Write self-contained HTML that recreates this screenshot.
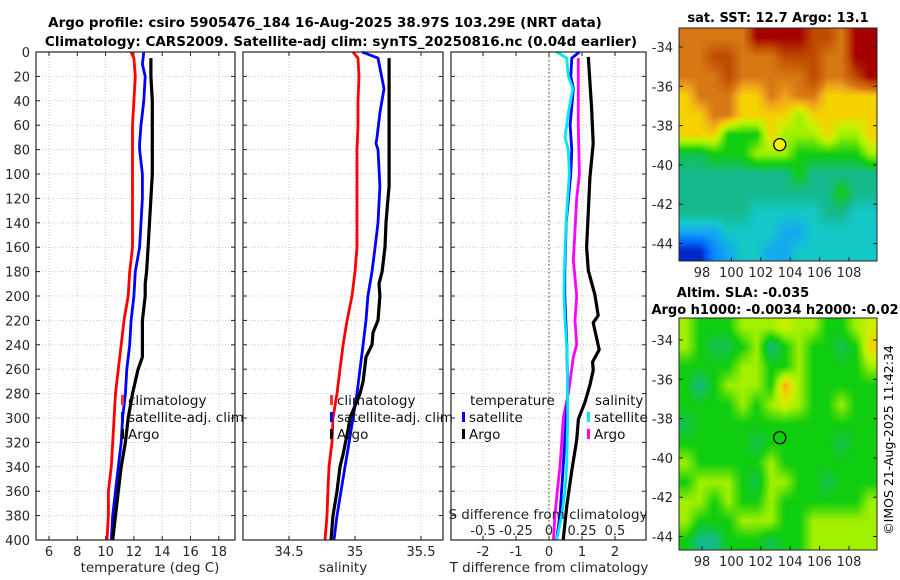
<!DOCTYPE html>
<html><head><meta charset="utf-8">
<style>
html,body{margin:0;padding:0;background:#fff;}
#root{position:relative;width:900px;height:580px;overflow:hidden;font-family:"DejaVu Sans","Liberation Sans",sans-serif;}
svg text{font-family:"DejaVu Sans","Liberation Sans",sans-serif;}
canvas{position:absolute;}
</style></head>
<body>
<div id="root">
<svg id="chart" width="900" height="580" style="position:absolute;left:0;top:0">
  <text x="325" y="27" font-size="13.5" font-weight="bold" text-anchor="middle">Argo profile: csiro 5905476_184 16-Aug-2025 38.97S 103.29E (NRT data)</text>
  <text x="341" y="46" font-size="13.5" font-weight="bold" text-anchor="middle">Climatology: CARS2009. Satellite-adj clim: synTS_20250816.nc (0.04d earlier)</text>
  <text x="778" y="22" font-size="13" font-weight="bold" text-anchor="middle">sat. SST: 12.7 Argo: 13.1</text>
  <text x="743" y="297" font-size="13" font-weight="bold" text-anchor="middle">Altim. SLA: -0.035</text>
  <text x="775" y="314" font-size="13" font-weight="bold" text-anchor="middle">Argo h1000: -0.0034 h2000: -0.02</text>
  <text x="0" y="0" font-size="12.5" text-anchor="middle" transform="translate(893,440) rotate(-90)">©IMOS 21-Aug-2025 11:42:34</text>
</svg>
<canvas id="sstmap" width="198" height="233" style="left:679px;top:28px;width:198px;height:233px"></canvas>
<canvas id="slamap" width="198" height="232" style="left:679px;top:318px;width:198px;height:232px"></canvas>
<svg id="maps" width="900" height="580" style="position:absolute;left:0;top:0"></svg>
</div>
<script>
// ---------- data ----------
const depthTicks = [0,20,40,60,80,100,120,140,160,180,200,220,240,260,280,300,320,340,360,380,400];
const tempTicks = [6,8,10,12,14,16,18];
const salTicks = [34.5,35,35.5];
const tdiffTicks = [-2,-1,0,1,2];
const sdiffTicks = [-0.5,-0.25,0,0.25,0.5];
const sdiffTickLabels = ["-0.5","-0.25","0","0.25","0.5"];

const climTdepth = [0,5,20,40,60,80,100,120,140,160,180,200,220,240,260,280,300,320,340,360,380,400];
const climT = [11.8,12.0,12.1,12.0,11.9,11.9,11.9,11.9,11.9,11.9,11.7,11.6,11.3,11.1,10.9,10.7,10.6,10.5,10.4,10.2,10.2,10.1];
const satTdepth = [0,10,20,40,60,75,80,100,120,140,160,180,200,220,240,260,280,300,320,340,360,380,400];
const satT = [12.7,12.6,12.8,12.7,12.5,12.4,12.4,12.6,12.6,12.5,12.4,12.1,12.0,11.8,11.7,11.5,11.4,11.2,11.1,10.9,10.7,10.5,10.4];
const argoTdepth = [5,20,40,60,80,100,120,140,160,180,190,200,220,240,250,260,280,300,320,340,360,380,400];
const argoT = [13.2,13.2,13.3,13.3,13.3,13.3,13.2,13.1,13.0,12.9,12.8,12.8,12.6,12.6,12.6,12.3,11.9,11.6,11.4,11.1,10.9,10.7,10.5];

const climSdepth = [0,5,20,40,60,80,100,120,140,160,180,200,220,240,260,280,300,320,340,360,380,400];
const climS = [34.985,35.023,35.03,35.023,35.023,35.015,35.015,35.015,35.015,35.015,35.0,34.977,34.94,34.91,34.886,34.864,34.833,34.826,34.803,34.795,34.788,34.773];
const satSdepth = [0,5,30,50,70,75,80,110,140,160,180,200,220,240,260,280,300,320,340,360,380,400];
const satS = [35.053,35.174,35.22,35.189,35.167,35.159,35.174,35.189,35.174,35.152,35.129,35.098,35.083,35.061,35.038,35.015,34.985,34.955,34.924,34.894,34.864,34.841];
const argoSdepth = [5,20,60,110,120,140,160,180,190,200,220,230,240,250,270,280,300,310,330,340,360,380,400];
const argoS = [35.258,35.258,35.258,35.258,35.25,35.235,35.227,35.205,35.182,35.189,35.174,35.136,35.129,35.083,35.061,35.038,34.962,34.947,34.909,34.886,34.864,34.833,34.818];

const satTdiffDepth = [0,5,20,30,60,80,100,120,140,180,200,240,280,300,340,380,400];
const satTdiff = [0.92,0.69,0.66,0.74,0.64,0.69,0.66,0.59,0.52,0.48,0.48,0.54,0.57,0.52,0.43,0.33,0.23];
const argoTdiffDepth = [4,46,75,103,131,160,179,199,216,222,244,254,261,273,287,301,318,343,372,400];
const argoTdiff = [1.19,1.29,1.34,1.24,1.19,1.14,1.19,1.39,1.49,1.34,1.52,1.32,1.34,1.24,1.09,0.89,0.84,0.69,0.54,0.43];
const satSdiffDepth = [0,5,20,30,50,70,80,100,140,180,200,220,250,300,340,360,380,400];
const satSdiff = [0.058,0.134,0.146,0.18,0.146,0.121,0.146,0.154,0.129,0.116,0.114,0.121,0.139,0.142,0.134,0.121,0.096,0.058];
const argoSdiffDepth = [5,20,60,100,120,160,170,200,220,240,250,260,280,300,320,340,360,380,400];
const argoSdiff = [0.222,0.222,0.222,0.23,0.21,0.19,0.184,0.21,0.197,0.21,0.184,0.172,0.146,0.108,0.096,0.083,0.063,0.045,0.033];

const lonTicks = [98,100,102,104,106,108];
const latTicks = [-34,-36,-38,-40,-42,-44];
const argoLon = 103.29, argoLat = -38.97;
// map grids (colour level 0..10), rows north->south, 1 deg each
const sstGrid = [
[8,8,8,8,8,10,10,10,10,9,9,8,10,10],
[8,8,9,9,8,8,8,9,9,9,8,8,10,10],
[8,8,8,9,8,8,8,8,8,9,8,8,9,10],
[7,8,8,8,7,7,8,7.5,8,8,7,7,7,7],
[7,7,8,8,7,7,7,7,6,7,7,7,7,7],
[7,7,7,5,5,5,7,6,6,6,7,6,6,7],
[4.5,4.5,5,5,5,6,6,6,5,5,5,5,5,6],
[4,4,4,4,4,4,4,4,5,4,4,4,4,4],
[4,4,4,4,4,4,4,4,4,4,4,5,4,4],
[4,4,4,4,4,3.5,3.5,3.5,3.5,3.5,4,4,3.5,3.5],
[3,3,3,3.5,3.5,3.5,3.5,3,3,3.5,3.5,3.5,3.5,3.5],
[1,1,2.5,3,3.5,3.5,3,3,3.5,3.5,3.5,3.5,3.5,3.5]];
const slaGrid = [
[6,5,5,5,6,6,6,6.5,6,6,5,5,6,6.5],
[6,5,4.5,4.5,5,6,4,5,6,5,5,4.5,5,7],
[5,5,5,5,6,6,5,5,6,5,5,5,5,6],
[5,4,5,6,6,6,5,7.5,6,5,5,5,5,5],
[5,5,5,5,6,5,6,6.5,6,5,5,6,5,5],
[4.5,5,5,5,5,5,5,5,5,5,5,5,5,5],
[5,5,5,5,5,4.5,5,5,5,5,5,4.5,5,5],
[6,5,5,5,5,5,6,5,5,5,5,5,5,5],
[5,6,6,6,5,4.5,6,6,5,5,4.5,5,5,5],
[6,6,5,6,5,5,6,5,5,5,5,5,5,6],
[6,5,5,5,6,6,6,5,5,6,6,6,6,6],
[5,4,4,5,5,5,4.5,5,5,6,6,6,6,6]];

// ---------- helpers ----------
const NS = "http://www.w3.org/2000/svg";
const svg = document.getElementById('chart');
function mk(tag, attrs, parent){ const e=document.createElementNS(NS,tag); for(const k in attrs) e.setAttribute(k,attrs[k]); (parent||svg).appendChild(e); return e; }
const top0=52, bot0=540;
const yD = d => top0 + d*(bot0-top0)/400;
const panels = [
  {x0:36,x1:235, xs:v=>49+(v-6)*14.15, ticks:tempTicks, labels:tempTicks.map(String), name:'temperature-panel', ylabels:true, xlabel:'temperature (deg C)', xlx:150},
  {x0:243,x1:443, xs:v=>355+(v-35)*132, ticks:salTicks, labels:["34.5","35","35.5"], name:'salinity-panel', ylabels:false, xlabel:'salinity', xlx:343},
  {x0:451,x1:646, xs:v=>549+v*33, ticks:tdiffTicks, labels:["-2","-1","0","1","2"], name:'difference-panel', ylabels:false, xlabel:'T difference from climatology', xlx:549}
];
panels.forEach((p,pi)=>{
  const g = mk('g',{});
  
  
  p.ticks.forEach(t=>{ const l=mk('line',{x1:p.xs(t),x2:p.xs(t),y1:top0,y2:bot0,stroke:'#c6cce6','stroke-width':1,'stroke-dasharray':'1,2'},g);
      });
  depthTicks.forEach(d=>{ if(d>0&&d<400){ const l=mk('line',{x1:p.x0,x2:p.x1,y1:yD(d),y2:yD(d),stroke:'#c6cce6','stroke-width':1,'stroke-dasharray':'1,2'},g);
      }});
  depthTicks.forEach(d=>{ mk('line',{x1:p.x0,x2:p.x0+4,y1:yD(d),y2:yD(d),stroke:'#222'},g); mk('line',{x1:p.x1-4,x2:p.x1,y1:yD(d),y2:yD(d),stroke:'#222'},g);
    if(p.ylabels){ const t=mk('text',{x:30,y:yD(d)+5,'font-size':13,'text-anchor':'end',fill:'#262626'},g); t.textContent=d;
        }});
  p.ticks.forEach((t,i)=>{ mk('line',{x1:p.xs(t),x2:p.xs(t),y1:bot0-4,y2:bot0,stroke:'#222'},g); mk('line',{x1:p.xs(t),x2:p.xs(t),y1:top0,y2:top0+4,stroke:'#222'},g);
    const tx=mk('text',{x:p.xs(t),y:556,'font-size':13,'text-anchor':'middle',fill:'#262626'},g); tx.textContent=p.labels[i];
      });
  const xl=mk('text',{x:p.xlx,y:572,'font-size':13.5,'text-anchor':'middle',fill:'#262626'},g); xl.textContent=p.xlabel;
   
});
const zl = mk('line',{x1:549,x2:549,y1:top0,y2:bot0,stroke:'#4d6b2a','stroke-width':1.2,'stroke-dasharray':'1.5,2.5'});
 

function series(depths, vals, xs, color, w, name){
  const pts = depths.map((d,i)=> xs(vals[i]).toFixed(1)+','+yD(d).toFixed(1)).join(' ');
  const l = mk('polyline',{points:pts,fill:'none',stroke:color,'stroke-width':w,'stroke-linejoin':'round'});
  
  
}
const P=panels;
series(climTdepth, climT, P[0].xs, '#ff0000', 2.8, 'climatology-temperature-line');
series(satTdepth, satT, P[0].xs, '#0000ff', 2.8, 'satellite-temperature-line');
series(argoTdepth, argoT, P[0].xs, '#000000', 3.2, 'argo-temperature-line');
series(climSdepth, climS, P[1].xs, '#ff0000', 2.8, 'climatology-salinity-line');
series(satSdepth, satS, P[1].xs, '#0000ff', 2.8, 'satellite-salinity-line');
series(argoSdepth, argoS, P[1].xs, '#000000', 3.2, 'argo-salinity-line');
const sdx = v=>549+v*132;
series(argoTdiffDepth, argoTdiff, P[2].xs, '#000000', 3.2, 'argo-t-diff-line');
series(argoSdiffDepth, argoSdiff, sdx, '#ff00ff', 2.8, 'argo-s-diff-line');
series(satTdiffDepth, satTdiff, P[2].xs, '#0000ff', 2.8, 'satellite-t-diff-line');
series(satSdiffDepth, satSdiff, sdx, '#00e8f0', 2.8, 'satellite-s-diff-line');

const sl=mk('text',{x:548,y:519,'font-size':13.5,'text-anchor':'middle',fill:'#262626'}); sl.textContent='S difference from climatology';
 
sdiffTicks.forEach((t,i)=>{ const tx=mk('text',{x:sdx(t),y:535,'font-size':13,'text-anchor':'middle',fill:'#262626'}); tx.textContent=sdiffTickLabels[i];
    });

panels.forEach(p=>{ const r=mk('rect',{x:p.x0,y:top0,width:p.x1-p.x0,height:bot0-top0,fill:'none',stroke:'#262626','stroke-width':1.2});
    });

function legend(x,y,color,label,name){
  const g=mk('g',{});
  
  
  mk('rect',{x:x,y:y-10,width:3,height:10,fill:color},g);
  const t=mk('text',{x:x+7,y:y,'font-size':13.5,fill:'#111'},g); t.textContent=label;
}
legend(121,405,'#ff3333','climatology','legend-climatology');
legend(121,422,'#0000ff','satellite-adj. clim','legend-satellite-adj');
legend(121,439,'#000','Argo','legend-argo');
legend(330,405,'#ff3333','climatology','legend-climatology-sal');
legend(330,422,'#0000ff','satellite-adj. clim','legend-satellite-adj-sal');
legend(330,439,'#000','Argo','legend-argo-sal');
const tt=mk('text',{x:470,y:405,'font-size':13.5,fill:'#111'}); tt.textContent='temperature';
 
const st=mk('text',{x:595,y:405,'font-size':13.5,fill:'#111'}); st.textContent='salinity';
 
legend(462,422,'#0000ff','satellite','legend-t-satellite');
legend(462,439,'#000','Argo','legend-t-argo');
legend(587,422,'#00e8f0','satellite','legend-s-satellite');
legend(587,439,'#ff00ff','Argo','legend-s-argo');

// ---------- maps ----------
const stops = [[0,[0,0,140]],[1,[0,40,200]],[2,[0,110,255]],[3,[20,170,240]],[3.5,[20,200,200]],[4,[20,185,140]],[5,[15,205,15]],[6,[160,240,0]],[6.5,[205,240,0]],[7,[245,210,0]],[7.5,[240,165,30]],[8,[215,120,20]],[9,[190,75,0]],[10,[165,0,0]]];
function col(v){ for(let i=0;i<stops.length-1;i++){ const a=stops[i],b=stops[i+1]; if(v<=b[0]){ const f=(v-a[0])/(b[0]-a[0]); return a[1].map((c,k)=>Math.round(c+(b[1][k]-c)*f)); } } return stops[stops.length-1][1]; }
function drawMap(id, grid){
  const rows=grid.length, cols=grid[0].length;
  const c=document.getElementById(id), ctx=c.getContext('2d');
  // bilinear interpolation of level values, then colour
  const W=c.width, H=c.height, img=ctx.createImageData(W,H);
  for(let py=0;py<H;py++){
    const gy=Math.min(Math.max((py+0.5)/H*rows-0.5,0),rows-1), y0=Math.floor(gy), y1=Math.min(y0+1,rows-1), fy=gy-y0;
    for(let px=0;px<W;px++){
      const gx=Math.min(Math.max((px+0.5)/W*cols-0.5,0),cols-1), x0=Math.floor(gx), x1=Math.min(x0+1,cols-1), fx=gx-x0;
      const v=(grid[y0][x0]*(1-fx)+grid[y0][x1]*fx)*(1-fy)+(grid[y1][x0]*(1-fx)+grid[y1][x1]*fx)*fy;
      const cc=col(v), o=(py*W+px)*4;
      img.data[o]=cc[0];img.data[o+1]=cc[1];img.data[o+2]=cc[2];img.data[o+3]=255;
    }
  }
  ctx.putImageData(img,0,0);
}
drawMap('sstmap', sstGrid);
drawMap('slamap', slaGrid);
const msvg=document.getElementById('maps');
function mm(tag,attrs){ const e=document.createElementNS(NS,tag); for(const k in attrs) e.setAttribute(k,attrs[k]); msvg.appendChild(e); return e; }
[{top:28,bot:261,lat0:47,fill:'#f0f000',name:'sst'},{top:318,bot:550,lat0:340,fill:'none',name:'sla'}].forEach(m=>{
  const lx = lon=>702+(lon-98)*14.7, ly = lat=>m.lat0+(-34-lat)*19.65;
  const fr=mm('rect',{x:679,y:m.top,width:198,height:m.bot-m.top,fill:'none',stroke:'#262626','stroke-width':1});
   
  latTicks.forEach(t=>{ mm('line',{x1:679,x2:683,y1:ly(t),y2:ly(t),stroke:'#222'}); mm('line',{x1:873,x2:877,y1:ly(t),y2:ly(t),stroke:'#222'});
    const tx=mm('text',{x:673,y:ly(t)+5,'font-size':13,'text-anchor':'end',fill:'#262626'}); tx.textContent=t;
      });
  lonTicks.forEach(t=>{ mm('line',{x1:lx(t),x2:lx(t),y1:m.bot-4,y2:m.bot,stroke:'#222'});
    const tx=mm('text',{x:lx(t),y:m.bot+16,'font-size':13,'text-anchor':'middle',fill:'#262626'}); tx.textContent=t;
      });
  const c=mm('circle',{cx:lx(argoLon),cy:ly(argoLat),r:6,fill:m.fill,stroke:'#000','stroke-width':1.3});
   
});
</script>
</body></html>
